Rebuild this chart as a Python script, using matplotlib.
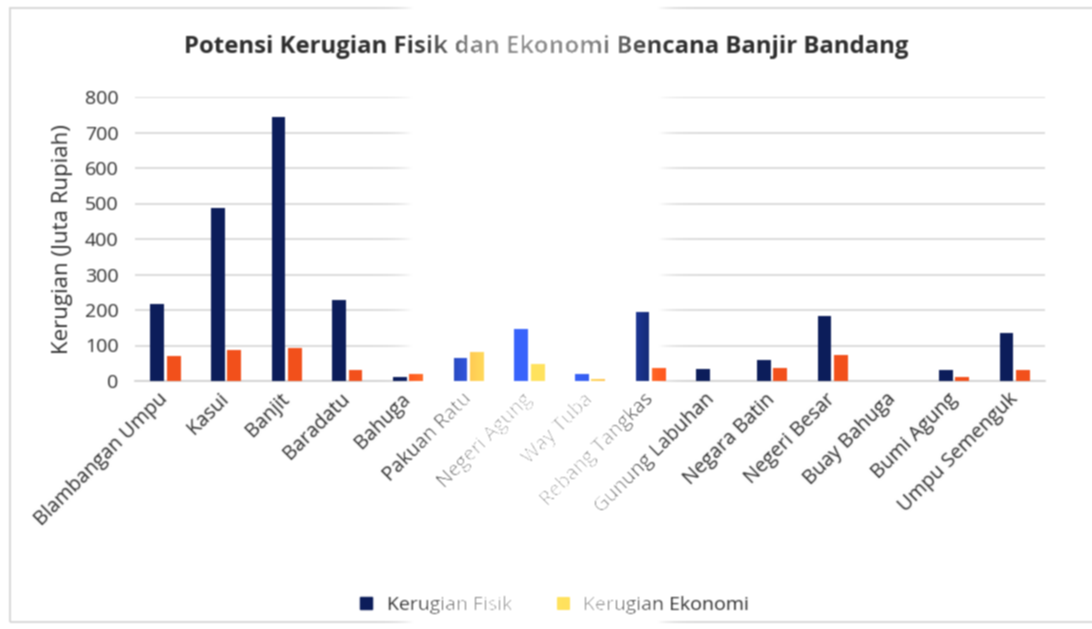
import numpy as np
import matplotlib
matplotlib.use('Agg')
import matplotlib.pyplot as plt
from matplotlib.patches import Rectangle
from matplotlib.lines import Line2D

kecamatan = ['Blambangan Umpu', 'Kasui', 'Banjit', 'Baradatu', 'Bahuga',
             'Pakuan Ratu', 'Negeri Agung', 'Way Tuba', 'Rebang Tangkas',
             'Gunung Labuhan', 'Negara Batin', 'Negeri Besar', 'Buay Bahuga',
             'Bumi Agung', 'Umpu Semenguk']
kerugian_fisik = [218, 488, 744, 227, 10, 66, 146, 20, 195, 33, 59, 182, 0, 32, 135]
kerugian_ekonomi = [70, 86, 94, 32, 20, 83, 48, 7, 36, 0, 36, 72, 0, 11, 30]
y_ticks = [0, 100, 200, 300, 400, 500, 600, 700, 800]

judul = 'Potensi Kerugian Fisik dan Ekonomi Bencana Banjir Bandang'

plt.rcParams['font.family'] = ['Open Sans', 'DejaVu Sans']
warna_teks = '#2e2e2e'
navy = '#0c1d5a'
oranye = '#f2501b'

W, H = 1092, 629
fig = plt.figure(figsize=(W / 100, H / 100), dpi=100)
ax = fig.add_axes([135 / W, 1 - 381 / H, 910 / W, 284 / H])

x = np.arange(len(kecamatan))
lebar = 0.23
ax.bar(x - 0.135, kerugian_fisik, lebar, color=navy, zorder=3)
ax.bar(x + 0.135, kerugian_ekonomi, lebar, color=oranye, zorder=3)

ax.set_xlim(-0.5, len(kecamatan) - 0.5)
ax.set_ylim(0, 800)
ax.set_yticks(y_ticks)
ax.yaxis.grid(True, color='#d6d6d6', lw=1.2)
ax.set_axisbelow(True)
for s in ['top', 'right', 'left']:
    ax.spines[s].set_visible(False)
ax.spines['bottom'].set_color('#cfcfcf')
ax.spines['bottom'].set_linewidth(1.2)
ax.tick_params(length=0, colors=warna_teks)
ax.tick_params(axis='y', labelsize=14, pad=12)
ax.set_xticks(x)
ax.set_xticklabels(kecamatan, rotation=45, ha='right', va='center',
                   rotation_mode='anchor', fontsize=14.3)
ax.tick_params(axis='x', pad=11)
ax.set_ylabel('Kerugian (Juta Rupiah)', fontsize=16, color=warna_teks, labelpad=8)

fig.text(0.5, 1 - 47 / H, judul, ha='center', va='center', fontsize=17.2,
         fontweight='bold', color=warna_teks)

penanda = [Line2D([], [], marker='s', ls='none', color=navy, markersize=8.5),
           Line2D([], [], marker='s', ls='none', color=oranye, markersize=8.5)]
fig.legend(penanda, ['Kerugian Fisik', 'Kerugian Ekonomi'], ncol=2,
           loc='center', bbox_to_anchor=(548 / W, 1 - 605 / H), frameon=False,
           fontsize=14, labelcolor=warna_teks, handletextpad=0.05,
           columnspacing=1.6)

# bingkai area grafik
fig.add_artist(Rectangle((10 / W, 7 / H), 1.0, 614 / H, transform=fig.transFigure,
                         fill=False, ec='#d2d2d2', lw=1.2))

fig.canvas.draw()
img = np.asarray(fig.canvas.buffer_rgba())[..., :3].astype(float) / 255

# pantulan cahaya di tengah halaman
kolom = np.arange(img.shape[1])
gain = 1 + 1.5 * np.exp(-((kolom - 535) / 100.0) ** 4)
img = np.clip(img * gain[None, :, None] + 0.07 * (gain - 1)[None, :, None], 0, 1)


def lunakkan(a, k):
    p = len(k) // 2
    b = np.pad(a, ((p, p), (0, 0), (0, 0)), mode='edge')
    a = sum(w * b[i:i + a.shape[0]] for i, w in enumerate(k))
    b = np.pad(a, ((0, 0), (p, p), (0, 0)), mode='edge')
    return sum(w * b[:, i:i + a.shape[1]] for i, w in enumerate(k))


img = lunakkan(img, np.array([1, 2, 1]) / 4)
plt.imsave('out.png', np.clip(img, 0, 1))
